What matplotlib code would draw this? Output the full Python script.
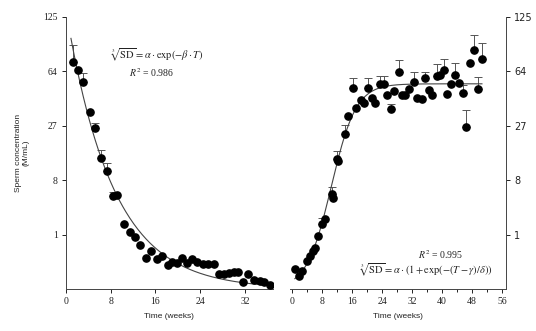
import numpy as np
import matplotlib
matplotlib.use("Agg")
import matplotlib.pyplot as plt
from matplotlib.ticker import MultipleLocator, FixedLocator

# ============================================================
#   DATA (sperm concentration, M/mL)
# ============================================================
# left panel: decline after treatment
left_weeks = [1.2, 2.2, 3.1, 4.3, 5.2, 6.3, 7.3, 8.4, 9.2, 10.3,
              11.4, 12.3, 13.3, 14.4, 15.3, 16.3, 17.2, 18.2, 19.0, 19.9,
              20.8, 21.7, 22.6, 23.5, 24.5, 25.4, 26.5, 27.4, 28.3, 29.2,
              30.1, 30.8, 31.7, 32.6, 33.7, 34.7, 35.5, 36.5]
left_conc = [73.0, 65.5, 55.3, 34.6, 25.7, 14.0, 10.2, 4.91, 5.09, 1.69,
             1.12, 0.885, 0.531, 0.176, 0.343, 0.166, 0.227, 0.085, 0.125, 0.104,
             0.185, 0.111, 0.166, 0.125, 0.097, 0.097, 0.097, 0.020, 0.022, 0.024,
             0.030, 0.033, 0.0017, 0.022, 0.0041, 0.0027, 0.0017, 0.0005]
left_err = [17.5, 0, 7.3, 0, 2.9, 2.8, 2.3, 0.8, 0, 0,
            0, 0, 0, 0, 0, 0, 0, 0, 0, 0,
            0, 0, 0, 0, 0, 0, 0, 0, 0, 0,
            0, 0, 0, 0, 0, 0, 0, 0]

# right panel: recovery
right_weeks = [0.8, 1.9, 2.6, 3.9, 4.8, 5.7, 6.1, 7.0, 8.1, 8.8,
               10.6, 11.0, 11.9, 12.4, 14.1, 15.0, 16.2, 17.1, 18.3, 19.2,
               20.4, 21.3, 22.1, 23.5, 24.4, 25.3, 26.3, 27.2, 28.4, 29.2,
               30.1, 31.2, 32.4, 33.4, 34.6, 35.5, 36.4, 37.2, 38.6, 39.5,
               40.5, 41.4, 42.4, 43.5, 44.5, 45.5, 46.4, 47.5, 48.4, 49.5, 50.6]
right_conc = [0.047, 0.014, 0.036, 0.141, 0.227, 0.343, 0.439, 0.941, 1.69, 2.15,
              5.36, 4.74, 13.7, 13.1, 23.1, 31.9, 50.7, 36.9, 42.1, 40.0,
              50.7, 42.9, 40.0, 53.2, 53.2, 45.5, 35.9, 47.8, 63.5, 45.1,
              45.1, 49.4, 55.3, 43.2, 42.5, 58.0, 48.6, 45.5, 59.8, 61.2,
              65.5, 45.9, 53.2, 61.2, 54.4, 47.0, 26.5, 72.0, 85.2, 49.4, 75.2]
right_err = [0, 0, 0, 0, 0, 0, 0, 0, 0.5, 0,
             1.2, 0, 2.7, 0, 4.4, 0, 7.3, 0, 0, 0,
             7.3, 0, 0, 6.6, 6.6, 0, 3.1, 0, 11.1, 0,
             0, 0, 8.2, 0, 0, 5.5, 0, 0, 10.6, 0,
             9.7, 0, 0, 10.8, 0, 5.7, 8.8, 0, 16.6, 9.9, 17.1]

# fitted models (cube root of SD)
alpha_l, beta_l = 5.13, 0.12
alpha_r, gamma_r, delta_r = 3.77, 10.5, 3.3

y_ticks = [1, 8, 27, 64, 125]

plt.rcParams["mathtext.fontset"] = "stix"
SERIF = "Liberation Serif"
SANS = "Liberation Sans"
INK = "#222222"

fig = plt.figure(figsize=(5.36, 3.31), dpi=100)
ax_l = fig.add_axes([0.123, 0.127, 0.386, 0.822])
ax_r = fig.add_axes([0.541, 0.127, 0.403, 0.822])

cube = (np.cbrt, lambda v: np.power(v, 3))


def draw_panel(ax, weeks, conc, err, fit_t, fit_c):
    weeks = np.array(weeks)
    conc = np.array(conc)
    err = np.array(err)
    m = err > 0
    ax.errorbar(weeks[m], conc[m], yerr=[np.zeros(m.sum()), err[m]],
                fmt="none", ecolor="#555555", elinewidth=0.7,
                capsize=3, capthick=0.7, zorder=2)
    ax.plot(fit_t, fit_c, color="#444444", lw=0.8, zorder=3)
    ax.plot(weeks, conc, "o", color="black", ms=5.2, zorder=4)
    ax.set_yscale("function", functions=cube)
    ax.set_ylim(0, 125)
    ax.yaxis.set_major_locator(FixedLocator(y_ticks))
    ax.set_yticklabels([str(t) for t in y_ticks])
    ax.xaxis.set_major_locator(MultipleLocator(8))
    ax.tick_params(direction="out", length=3, width=0.7, colors=INK,
                   labelsize=7, pad=3)
    ax.tick_params(which="minor", direction="out", length=2, width=0.6)
    for lab in ax.get_xticklabels() + ax.get_yticklabels():
        lab.set_fontfamily(SERIF)
    ax.set_xlabel("Time (weeks)", fontsize=6, fontfamily=SANS,
                  color=INK, labelpad=5)
    for s in ax.spines.values():
        s.set_linewidth(0.7)
        s.set_color("#444444")
    ax.spines["top"].set_visible(False)


# left: exponential decay
t_l = np.linspace(0.9, 37, 200)
draw_panel(ax_l, left_weeks, left_conc, left_err,
           t_l, (alpha_l * np.exp(-beta_l * t_l)) ** 3)
ax_l.set_xlim(0, 37)
ax_l.spines["right"].set_visible(False)
ax_l.set_ylabel("Sperm concentration\n(M/mL)", fontsize=6,
                fontfamily=SANS, color=INK, labelpad=10, linespacing=1.0)

# right: logistic recovery
t_r = np.linspace(0.8, 50.6, 300)
draw_panel(ax_r, right_weeks, right_conc, right_err,
           t_r, (alpha_r / (1 + np.exp(-(t_r - gamma_r) / delta_r))) ** 3)
ax_r.set_xlim(-0.5, 57)
ax_r.xaxis.set_minor_locator(MultipleLocator(4))
ax_r.spines["left"].set_visible(False)
ax_r.yaxis.tick_right()

# equations
fig.text(0.293, 0.834, r"$\sqrt[3]{\mathrm{SD}} = \alpha\cdot\exp(-\beta\cdot T)$",
         ha="center", va="center", fontsize=7.5, color=INK)
fig.text(0.282, 0.782, r"$R^2$ = 0.986", ha="center", va="center",
         fontsize=7, fontfamily=SERIF, color=INK)
fig.text(0.821, 0.230, r"$R^2$ = 0.995", ha="center", va="center",
         fontsize=7, fontfamily=SERIF, color=INK)
fig.text(0.795, 0.187,
         r"$\sqrt[3]{\mathrm{SD}} = \alpha\cdot(1+\exp(-(T-\gamma)/\delta))$",
         ha="center", va="center", fontsize=7.5, color=INK)

fig.savefig("out.png", dpi=100)
